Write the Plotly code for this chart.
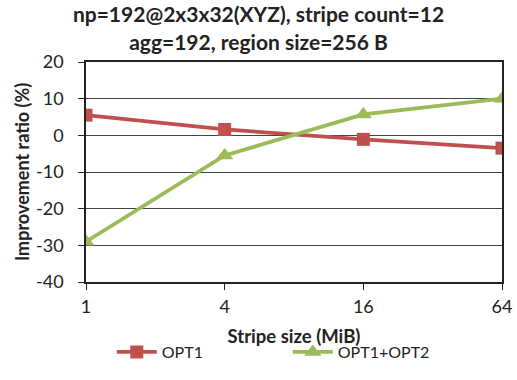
import plotly.graph_objects as go

categories = ["1", "4", "16", "64"]
opt1 = [5.5, 1.6, -1.1, -3.5]
opt1_opt2 = [-29.0, -5.5, 5.7, 10.0]
y_ticks = [20, 10, 0, -10, -20, -30, -40]
y_tick_text = ["20", "10", "0", "-10", "-20", "-30", "-40"]

FONT = "Lato"
fig = go.Figure()
fig.add_trace(go.Scatter(
    x=categories, y=opt1, name="OPT1", mode="lines+markers",
    line=dict(color="#C0504D", width=3.8),
    marker=dict(symbol="square", size=13, color="#C0504D"),
))
fig.add_trace(go.Scatter(
    x=categories, y=opt1_opt2, name="OPT1+OPT2", mode="lines+markers",
    line=dict(color="#9BBB59", width=3.8),
    marker=dict(symbol="triangle-up", size=15, color="#9BBB59"),
))

fig.update_layout(
    width=517, height=380,
    margin=dict(l=86, r=15, t=62, b=98, autoexpand=False),
    paper_bgcolor="white", plot_bgcolor="white",
    font=dict(family=FONT, size=16, color="#222222"),
    title=dict(
        text="<b>np=192@2x3x32(XYZ), stripe count=12<br>agg=192, region size=256 B</b>",
        x=0.5, xanchor="center", y=0.941, yanchor="middle",
        font=dict(family=FONT, size=21, color="#222222"),
    ),
    showlegend=True,
    legend=dict(orientation="h", x=0.062, xanchor="left", y=-0.241, yanchor="top",
                font=dict(family=FONT, size=16), itemwidth=40,
                entrywidth=121, entrywidthmode="pixels"),
    xaxis=dict(
        type="category", range=[0, 3], automargin=False,
        title=dict(text="<b>Stripe size (MiB)</b>", font=dict(size=18.5), standoff=14),
        showline=True, linecolor="#222222", linewidth=1.5, mirror=True,
        ticks="outside", ticklen=6, tickcolor="#222222",
        showgrid=False, tickfont=dict(size=18), ticklabelstandoff=2,
    ),
    yaxis=dict(
        range=[-40, 20], tickvals=y_ticks, ticktext=y_tick_text, automargin=False,
        title=dict(text="<b>Improvement ratio (%)</b>", font=dict(size=18), standoff=2),
        showline=True, linecolor="#222222", linewidth=1.5, mirror=True,
        ticks="outside", ticklen=6, tickcolor="#222222",
        showgrid=True, gridcolor="#444444", gridwidth=1.2,
        zeroline=False, tickfont=dict(size=18), ticklabelstandoff=11,
    ),
)

fig.write_html("out.html", config={"displayModeBar": False},
               post_script="document.body.style.margin='0';")
